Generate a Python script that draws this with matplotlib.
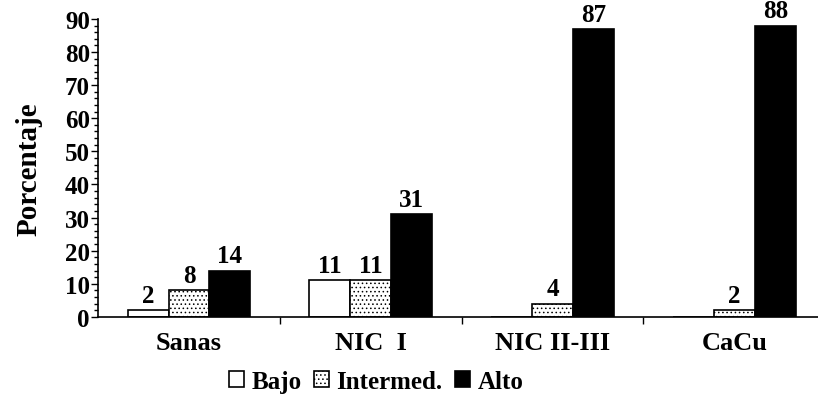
import numpy as np
import matplotlib
matplotlib.use("Agg")
import matplotlib.pyplot as plt
from matplotlib.ticker import MultipleLocator

categories = ["Sanas", "NIC  I", "NIC II-III", "CaCu"]
series = ["Bajo", "Intermed.", "Alto"]
bajo = [2, 11, 0, 0]
intermed = [8, 11, 4, 2]
alto = [14, 31, 87, 88]

plt.rcParams['font.family'] = ['Liberation Serif', 'DejaVu Serif']
plt.rcParams['font.weight'] = 'bold'
plt.rcParams['hatch.linewidth'] = 0.6

fig = plt.figure(figsize=(8.18, 4.06), dpi=100)
ax = fig.add_axes([0.12, 0.217, 0.88, 0.734])

x = np.arange(len(categories))
w = 0.225
b1 = ax.bar(x - w, bajo, w, color='white', edgecolor='black', linewidth=1.2, label=series[0])
b2 = ax.bar(x, intermed, w, color='white', edgecolor='black', linewidth=1.2, hatch='....', label=series[1])
b3 = ax.bar(x + w, alto, w, color='black', edgecolor='black', linewidth=1.2, label=series[2])

# etiquetas de valor (sin etiqueta cuando la barra es 0)
for bars, vals in [(b1, bajo), (b2, intermed), (b3, alto)]:
    for r, v in zip(bars, vals):
        if v > 0:
            ax.text(r.get_x() + r.get_width() / 2, v + 1.0, str(v), ha='center', va='bottom',
                    fontsize=18, fontweight='bold')

ax.set_xlim(-0.5, 3.46)
ax.set_ylim(0, 90)
ax.yaxis.set_major_locator(MultipleLocator(10))
ax.yaxis.set_minor_locator(MultipleLocator(2))
ax.set_xticks(x)
ax.set_xticklabels(categories, fontsize=19, fontweight='bold')
ax.set_xticks([0.5, 1.5, 2.5], minor=True)
ax.tick_params(axis='x', which='major', length=0, pad=10)
ax.tick_params(axis='x', which='minor', length=5, width=1)
ax.tick_params(axis='y', which='major', length=5, width=1, labelsize=18, pad=1)
ax.tick_params(axis='y', which='minor', length=3, width=1)
for lbl in ax.get_yticklabels():
    lbl.set_fontweight('bold')
ax.set_ylabel("Porcentaje", fontsize=21, fontweight='bold', labelpad=16)
for s in ['top', 'right']:
    ax.spines[s].set_visible(False)
ax.spines['left'].set_linewidth(1.2)
ax.spines['bottom'].set_linewidth(1.2)

fig.legend(handles=[b1, b2, b3], labels=series, loc='lower center', bbox_to_anchor=(0.46, -0.025),
           ncol=3, frameon=False, prop={'size': 18, 'weight': 'bold'},
           handlelength=0.6, handleheight=0.6, handletextpad=0.3, columnspacing=0.5)

plt.savefig('out.png', dpi=100)
